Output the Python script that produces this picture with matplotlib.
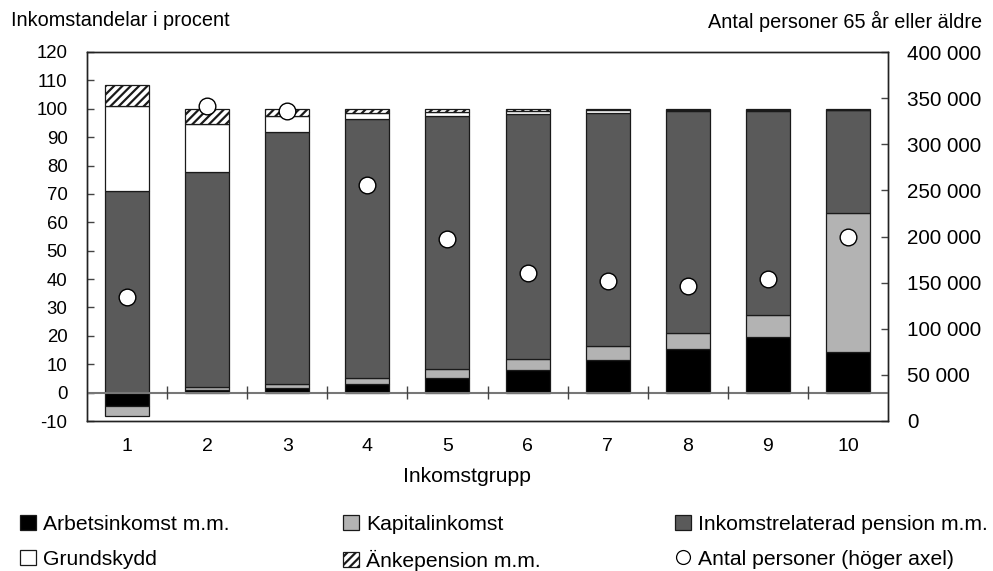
import matplotlib
matplotlib.use("Agg")
import matplotlib.pyplot as plt
import numpy as np
from matplotlib.lines import Line2D
from matplotlib.patches import Patch

plt.rcParams['font.family'] = ['Liberation Sans', 'DejaVu Sans']
plt.rcParams['hatch.linewidth'] = 1.6
plt.rcParams['axes.unicode_minus'] = False

groups = ['1', '2', '3', '4', '5', '6', '7', '8', '9', '10']
arbets = [-4.6, 0.9, 1.5, 2.9, 5.3, 8.0, 11.5, 15.4, 19.5, 14.4]
kapital = [-3.8, 1.0, 1.4, 2.1, 2.9, 3.7, 4.9, 5.7, 7.9, 48.9]
inkomstrel = [71.0, 75.7, 88.8, 91.5, 89.2, 86.5, 82.2, 78.0, 71.8, 36.2]
grundskydd = [30.0, 17.1, 5.6, 2.1, 1.4, 1.1, 0.8, 0.5, 0.3, 0.2]
anke = [7.5, 5.3, 2.7, 1.4, 1.2, 0.7, 0.6, 0.4, 0.5, 0.3]
antal = [134700, 342000, 335700, 256300, 197000, 160900, 151300, 146500, 153500, 199600]

labels = ['Arbetsinkomst m.m.', 'Kapitalinkomst', 'Inkomstrelaterad pension m.m.',
          'Grundskydd', 'Änkepension m.m.', 'Antal personer (höger axel)']

FS_LT = 13.4   # left ticks
FS_RT = 14.9   # right ticks
FS_XT = 14.0   # x ticks
FS_T = 14.3    # titles
FS_XL = 15.2   # x label
FS_LG = 15.2   # legend

fig = plt.figure(figsize=(9.93, 5.71), dpi=100)
ax = fig.add_axes([87/993, 1 - 421/571, (888 - 87)/993, (421 - 52)/571])

x = np.arange(1, len(groups) + 1)
w = 0.55
series = [
    (arbets, dict(color='#000000')),
    (kapital, dict(color='#b3b3b3')),
    (inkomstrel, dict(color='#5a5a5a')),
    (grundskydd, dict(color='#ffffff')),
    (anke, dict(color='#ffffff', hatch='////')),
]
pos = np.zeros(len(x))
neg = np.zeros(len(x))
for vals, st in series:
    v = np.array(vals, dtype=float)
    bottom = np.where(v >= 0, pos, neg)
    ax.bar(x, v, w, bottom=bottom, facecolor=st['color'], edgecolor='#1a1a1a',
           linewidth=0.9, hatch=st.get('hatch'), zorder=2)
    pos = np.where(v >= 0, pos + v, pos)
    neg = np.where(v < 0, neg + v, neg)

ax.axhline(0, color='#777777', linewidth=1.5, zorder=3)
bounds = x[:-1] + 0.5
ax.vlines(bounds, -2.3, 2.3, color='#444444', linewidth=1.0, zorder=3)

ax.set_xlim(0.5, len(groups) + 0.5)
ax.set_ylim(-10, 120)
ax.set_yticks(np.arange(-10, 121, 10))
ax.set_xticks(x)
ax.set_xticklabels(groups)
ax.tick_params(axis='x', length=0, pad=12, labelsize=FS_XT)
ax.tick_params(axis='y', direction='in', length=5, width=1, color='#444444', pad=14, labelsize=FS_LT)
for s in ax.spines.values():
    s.set_linewidth(1.0)
    s.set_color('#222222')

ax2 = ax.twinx()
ax2.set_ylim(0, 400000)
rt = np.arange(0, 400001, 50000)
ax2.set_yticks(rt)
ax2.set_yticklabels([f"{int(t):,}".replace(',', ' ') for t in rt])
ax2.tick_params(axis='y', direction='in', length=5, width=1, color='#444444', pad=14, labelsize=FS_RT)
ax2.plot(x, antal, linestyle='none', marker='o', markersize=12, markerfacecolor='white',
         markeredgecolor='black', markeredgewidth=1.0, zorder=5)
for s in ax2.spines.values():
    s.set_linewidth(1.0)
    s.set_color('#222222')

fig.text(11/993, 1 - 21/571, 'Inkomstandelar i procent', fontsize=FS_T, ha='left', va='center')
fig.text(982/993, 1 - 21/571, 'Antal personer 65 år eller äldre', fontsize=FS_T, ha='right', va='center')
fig.text(467/993, 1 - 477/571, 'Inkomstgrupp', fontsize=FS_XL, ha='center', va='center')

def sq(fc, hatch=None):
    return Patch(facecolor=fc, edgecolor='#1a1a1a', linewidth=0.9, hatch=hatch)

h_arb = sq('#000000')
h_kap = sq('#b3b3b3')
h_ink = sq('#5a5a5a')
h_gru = sq('#ffffff')
h_ank = sq('#ffffff', '////')
h_ant = Line2D([], [], linestyle='none', marker='o', markersize=10, markerfacecolor='white',
               markeredgecolor='black', markeredgewidth=0.9)

cols = [([h_arb, h_gru], [labels[0], labels[3]], 20),
        ([h_kap, h_ank], [labels[1], labels[4]], 343),
        ([h_ink, h_ant], [labels[2], labels[5]], 675)]
for hs, ls, xpx in cols:
    fig.legend(hs, ls, loc='upper left', bbox_to_anchor=(xpx/993, 1 - 515/571),
               frameon=False, fontsize=FS_LG, handlelength=0.76, handleheight=0.72,
               handletextpad=0.33, labelspacing=0.74, borderpad=0, borderaxespad=0)

fig.savefig('out.png', dpi=100)
